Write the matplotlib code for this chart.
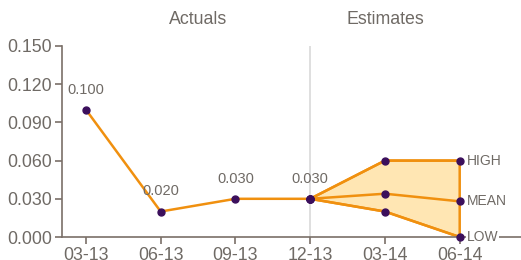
import matplotlib
matplotlib.use("Agg")
import matplotlib.pyplot as plt

plt.rcParams['font.family'] = ['Liberation Sans', 'DejaVu Sans']

categories = ["03-13", "06-13", "09-13", "12-13", "03-14", "06-14"]
actuals = [0.100, 0.020, 0.030, 0.030]
est_high = [0.030, 0.060, 0.060]
est_mean = [0.030, 0.034, 0.028]
est_low = [0.030, 0.020, 0.000]
yticks = [0.000, 0.030, 0.060, 0.090, 0.120, 0.150]
est_labels = ["HIGH", "MEAN", "LOW"]

ORANGE = "#F0900F"
FILL = "#FFE6B3"
PURPLE = "#3B0F5C"
TEXT = "#6F6A65"
AXIS = "#7A7068"

fig = plt.figure(figsize=(5.21, 2.60), dpi=100)
ax = fig.add_axes([62/521, 23/260, 1 - 62/521, (237-46)/260])

xa = list(range(len(actuals)))
xe = list(range(len(actuals) - 1, len(categories)))

# vertical separator
ax.axvline(xa[-1], color="#D9D9D9", lw=1.2, zorder=0)

# estimate band polygon
poly_x = xe + xe[::-1]
poly_y = est_high + est_low[::-1]
ax.fill(poly_x, poly_y, facecolor=FILL, edgecolor=ORANGE, lw=1.8, zorder=1, joinstyle="round")

ax.plot(xa, actuals, color=ORANGE, lw=1.8, zorder=2)
ax.plot(xe, est_mean, color=ORANGE, lw=1.8, zorder=2)
ax.plot(xe, est_high, color=ORANGE, lw=1.8, zorder=2)
ax.plot(xe, est_low, color=ORANGE, lw=1.8, zorder=2)

for series in (est_high, est_mean, est_low):
    ax.plot(xe, series, ls="none", marker="o", ms=5, color=PURPLE, zorder=4, clip_on=False)
ax.plot(xa, actuals, ls="none", marker="o", ms=5, color=PURPLE, zorder=4, clip_on=False)

for x, v in zip(xa, actuals):
    ax.annotate(f"{v:.3f}", (x, v), xytext=(0, 14.5), textcoords="offset points",
                ha="center", va="center", fontsize=10.5, color=TEXT)

for lab, series in zip(est_labels, (est_high, est_mean, est_low)):
    ax.annotate(lab, (xe[-1], series[-1]), xytext=(5, 0), textcoords="offset points",
                ha="left", va="center", fontsize=10, color=TEXT, zorder=3,
                bbox=dict(facecolor="white", edgecolor="none", pad=0.3), annotation_clip=False)

ax.set_xlim(-0.32, 5.82)
ax.set_ylim(0, 0.150)
ax.set_xticks(range(len(categories)))
ax.set_xticklabels(categories)
ax.set_yticks(yticks)
ax.set_yticklabels([f"{t:.3f}" for t in yticks])

for s in ("top", "right"):
    ax.spines[s].set_visible(False)
for s in ("left", "bottom"):
    ax.spines[s].set_color(AXIS)
    ax.spines[s].set_linewidth(1.2)
ax.tick_params(axis="both", colors=AXIS, labelcolor=TEXT, labelsize=12.8, length=5, width=1.2)
ax.tick_params(axis="x", pad=2)
ax.tick_params(axis="y", pad=2)

ax.text((xa[0] + xa[-1]) / 2, 1.14, "Actuals", transform=ax.get_xaxis_transform(),
        ha="center", va="center", fontsize=12.8, color=TEXT)
ax.text((xe[0] + xe[-1]) / 2, 1.14, "Estimates", transform=ax.get_xaxis_transform(),
        ha="center", va="center", fontsize=12.8, color=TEXT)

fig.savefig("out.png", dpi=100)
